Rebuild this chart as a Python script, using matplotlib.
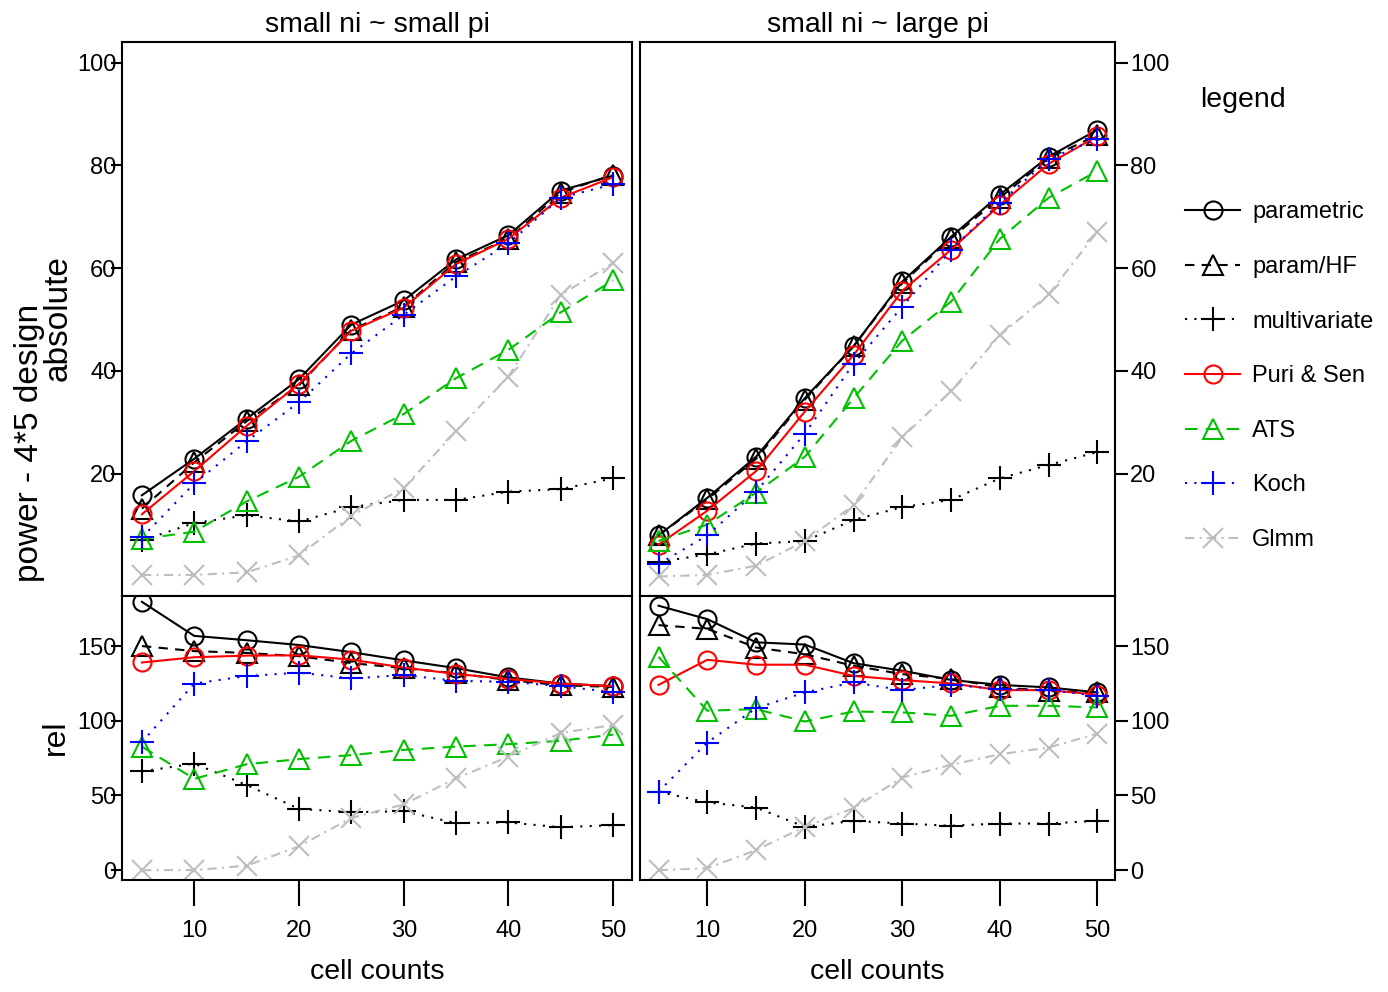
import matplotlib

matplotlib.use("Agg")
import matplotlib.pyplot as plt

plt.rcParams["font.family"] = ["Liberation Sans", "DejaVu Sans"]

cells = [5, 10, 15, 20, 25, 30, 35, 40, 45, 50]
methods = ["parametric", "param/HF", "multivariate", "Puri & Sen", "ATS", "Koch", "Glmm"]

# absolute power, small ni ~ small pi
abs_small = {
    "parametric": [15.8, 22.9, 30.7, 38.4, 49.0, 53.7, 61.7, 66.4, 75.1, 78.0],
    "param/HF": [13.2, 22.2, 30.2, 37.2, 48.0, 52.5, 61.2, 65.7, 74.7, 78.2],
    "multivariate": [7.0, 10.4, 11.9, 10.7, 13.5, 14.9, 14.9, 16.5, 17.0, 19.1],
    "Puri & Sen": [12.1, 20.5, 29.3, 37.5, 47.8, 52.3, 60.8, 65.7, 73.7, 77.7],
    "ATS": [7.3, 8.7, 14.6, 19.4, 26.4, 31.6, 38.6, 44.1, 51.4, 57.6],
    "Koch": [7.6, 18.1, 26.3, 33.9, 43.4, 50.9, 58.4, 64.8, 73.7, 76.3],
    "Glmm": [0.3, 0.3, 0.8, 4.1, 11.8, 17.2, 28.3, 38.9, 54.8, 61.0],
}

# absolute power, small ni ~ large pi
abs_large = {
    "parametric": [8.0, 15.3, 23.3, 34.7, 44.8, 57.4, 66.1, 74.3, 81.7, 86.9],
    "param/HF": [8.0, 15.0, 22.9, 34.4, 44.8, 57.1, 65.8, 73.7, 81.4, 85.9],
    "multivariate": [2.8, 4.3, 6.4, 6.9, 11.0, 13.5, 14.9, 19.1, 21.7, 24.2],
    "Puri & Sen": [6.2, 12.8, 20.5, 32.1, 43.1, 55.6, 63.6, 72.3, 80.3, 85.7],
    "ATS": [6.9, 10.1, 16.3, 23.3, 34.7, 45.9, 53.5, 65.7, 73.7, 78.9],
    "Koch": [2.4, 8.0, 16.5, 27.8, 41.4, 52.5, 63.6, 72.7, 81.2, 85.2],
    "Glmm": [0.0, 0.3, 2.1, 6.9, 13.9, 27.1, 36.1, 46.9, 54.9, 67.1],
}

# relative power, small ni ~ small pi
rel_small = {
    "parametric": [179.6, 156.8, 153.9, 150.7, 145.9, 140.4, 135.2, 129.0, 124.9, 123.1],
    "param/HF": [150.0, 146.6, 145.4, 143.2, 138.6, 135.2, 131.8, 127.2, 123.8, 122.6],
    "multivariate": [66.1, 71.3, 57.0, 41.0, 38.8, 39.4, 31.5, 31.9, 28.7, 30.1],
    "Puri & Sen": [139.0, 142.5, 143.6, 143.8, 140.9, 135.6, 131.3, 127.9, 124.9, 123.1],
    "ATS": [82.7, 61.1, 70.9, 74.3, 77.0, 80.5, 82.7, 84.3, 86.6, 90.7],
    "Koch": [85.7, 124.9, 129.9, 132.2, 128.3, 130.6, 126.7, 126.1, 123.1, 119.2],
    "Glmm": [0.0, 0.0, 3.0, 16.0, 34.9, 44.0, 61.5, 75.9, 91.9, 97.1],
}

# relative power, small ni ~ large pi
rel_large = {
    "parametric": [177.0, 168.0, 152.5, 151.0, 138.5, 133.5, 127.3, 124.0, 122.3, 119.0],
    "param/HF": [164.0, 161.5, 149.0, 144.5, 136.8, 131.2, 128.0, 122.3, 120.0, 119.0],
    "multivariate": [52.5, 45.3, 41.9, 29.0, 33.0, 31.2, 29.7, 31.2, 31.2, 33.0],
    "Puri & Sen": [124.0, 140.8, 137.5, 137.5, 130.0, 127.2, 125.0, 120.5, 120.5, 117.4],
    "ATS": [142.8, 106.7, 107.8, 99.5, 106.2, 105.6, 103.3, 110.0, 110.0, 108.9],
    "Koch": [52.5, 85.4, 108.4, 119.0, 125.6, 120.5, 124.0, 121.2, 120.5, 116.7],
    "Glmm": [0.0, 1.3, 13.4, 29.0, 41.5, 62.0, 70.5, 77.6, 82.0, 91.4],
}

green = "#00C000"
grey = "#BEBEBE"
styles = {
    "parametric": dict(color="black", ls="-", marker="o", ms=13),
    "param/HF": dict(color="black", ls=(0, (4.5, 3.5)), marker="^", ms=15),
    "multivariate": dict(color="black", ls=(0, (1, 3.5)), marker="+", ms=17),
    "Puri & Sen": dict(color="red", ls="-", marker="o", ms=13),
    "ATS": dict(color=green, ls=(0, (6, 4)), marker="^", ms=15),
    "Koch": dict(color="blue", ls=(0, (1, 3.5)), marker="+", ms=17),
    "Glmm": dict(color=grey, ls=(0, (4.5, 2.5, 1, 2.5)), marker="x", ms=14),
}

W, H = 1388, 992
fig = plt.figure(figsize=(W / 100, H / 100), dpi=100)


def box(x0, y0, x1, y1):
    return [x0 / W, 1 - y1 / H, (x1 - x0) / W, (y1 - y0) / H]


ax_tl = fig.add_axes(box(122, 42, 632, 596))
ax_tr = fig.add_axes(box(640, 42, 1115, 596))
ax_bl = fig.add_axes(box(122, 596, 632, 880))
ax_br = fig.add_axes(box(640, 596, 1115, 880))

panels = [
    (ax_tl, abs_small, "top", "left"),
    (ax_tr, abs_large, "top", "right"),
    (ax_bl, rel_small, "bottom", "left"),
    (ax_br, rel_large, "bottom", "right"),
]

for ax, data, row, side in panels:
    for m in methods:
        st = styles[m]
        ax.plot(cells, data[m], color=st["color"], linestyle=st["ls"], lw=1.5,
                marker=st["marker"], ms=st["ms"], mew=1.5, mfc="none", label=m)
    ax.set_xlim(3.1, 51.8)
    for sp in ax.spines.values():
        sp.set_linewidth(1.5)
    if row == "top":
        ax.set_ylim(-3.8, 104.0)
        ax.set_yticks([20, 40, 60, 80, 100])
        ax.set_xticks([])
    else:
        ax.set_ylim(-6.6, 183.5)
        ax.set_yticks([0, 50, 100, 150])
        ax.set_xticks([10, 20, 30, 40, 50])
        ax.tick_params(axis="x", length=19, width=1.5, pad=10, labelsize=17)
        ax.set_xlabel("cell counts", fontsize=20.5, labelpad=12)
    if side == "left":
        ax.tick_params(axis="y", length=8, width=1.5, pad=-4, labelsize=17)
    else:
        ax.yaxis.tick_right()
        ax.tick_params(axis="y", length=9, width=1.5, pad=2, labelsize=17)

ax_tl.set_title("small ni ~ small pi", fontsize=20.5, pad=7)
ax_tr.set_title("small ni ~ large pi", fontsize=20.5, pad=7)

fig.text(30 / W, 1 - 443 / H, "power - 4*5 design", rotation=90, fontsize=24,
         ha="center", va="center")
fig.text(58 / W, 1 - 318 / H, "absolute", rotation=90, fontsize=24,
         ha="center", va="center")
fig.text(56 / W, 1 - 737 / H, "rel", rotation=90, fontsize=23,
         ha="center", va="center")

fig.text(1200 / W, 1 - 100 / H, "legend", fontsize=20.5, ha="left", va="center")
handles, labels = ax_tl.get_legend_handles_labels()
fig.legend(handles, labels, loc="upper left", bbox_to_anchor=(1176 / W, 1 - 192 / H),
           frameon=False, fontsize=17, handlelength=2.33, handletextpad=0.5,
           labelspacing=1.38, numpoints=1, borderaxespad=0)

fig.savefig("out.png", dpi=100)
